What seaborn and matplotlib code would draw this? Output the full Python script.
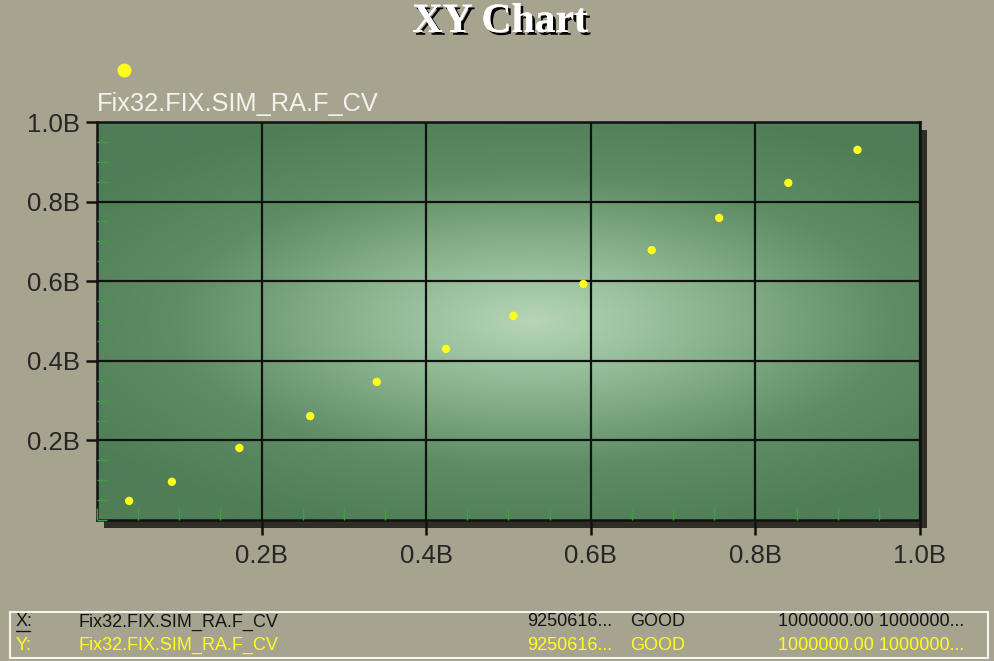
import numpy as np
import pandas as pd
import seaborn as sns
import matplotlib
matplotlib.use("Agg")
import matplotlib.pyplot as plt
from matplotlib.patches import Rectangle
from matplotlib.lines import Line2D
from matplotlib.ticker import FuncFormatter, MultipleLocator
from matplotlib.colors import LinearSegmentedColormap
import matplotlib.patheffects as pe

# ---- data ----
x_values = [0.039e9, 0.091e9, 0.173e9, 0.259e9, 0.340e9, 0.424e9,
            0.506e9, 0.591e9, 0.674e9, 0.756e9, 0.840e9, 0.924e9]
y_values = [0.048e9, 0.096e9, 0.181e9, 0.261e9, 0.347e9, 0.430e9,
            0.513e9, 0.593e9, 0.678e9, 0.759e9, 0.847e9, 0.930e9]
series_name = "Fix32.FIX.SIM_RA.F_CV"
tick_values = [0.2e9, 0.4e9, 0.6e9, 0.8e9, 1.0e9]
title_text = "XY Chart"
table_rows = [
    ["X:", "Fix32.FIX.SIM_RA.F_CV", "9250616...", "GOOD", "1000000.00 1000000..."],
    ["Y:", "Fix32.FIX.SIM_RA.F_CV", "9250616...", "GOOD", "1000000.00 1000000..."],
]

df = pd.DataFrame({"x": x_values, "y": y_values})

sns.set_theme(style="white")
plt.rcParams["font.family"] = ["Liberation Sans", "DejaVu Sans"]

W, H = 995, 661
fig = plt.figure(figsize=(W / 100, H / 100), dpi=100)
fig.patch.set_facecolor("#a6a48f")

# plot area geometry (pixels)
L, R, T, B = 97, 920, 122, 520
ax = fig.add_axes([L / W, 1 - B / H, (R - L) / W, (B - T) / H])
ax.set_zorder(2)

# shadow behind plot area
fig.patches.append(Rectangle(((L + 7) / W, 1 - (B + 8) / H), (R - L) / W, (B - T) / H,
                             transform=fig.transFigure, facecolor="#2e2e26",
                             edgecolor="none", zorder=-1))

# green radial gradient background of plot area
gx, gy = np.meshgrid(np.linspace(0, 1, 400), np.linspace(0, 1, 300))
d = np.sqrt(((gx - 0.53) / 0.66) ** 2 + ((gy - 0.5) / 0.55) ** 2)
d = np.clip(d, 0, 1)
cmap = LinearSegmentedColormap.from_list("g", ["#b6d6b6", "#8ab48e", "#5e8c64", "#4f7d56"])
ax.imshow(d, cmap=cmap, extent=(0, 1, 0, 1), transform=ax.transAxes,
          aspect="auto", origin="lower", zorder=0, vmin=0, vmax=1)

sns.scatterplot(data=df, x="x", y="y", ax=ax, color="#ffff1a", s=36,
                edgecolor="none", zorder=5, legend=False)

ax.set_xlim(0, 1.0e9)
ax.set_ylim(0, 1.0e9)
ax.set_xticks(tick_values)
ax.set_yticks(tick_values)
fmt = FuncFormatter(lambda v, p: f"{v / 1e9:.1f}B")
ax.xaxis.set_major_formatter(fmt)
ax.yaxis.set_major_formatter(fmt)
ax.xaxis.set_minor_locator(MultipleLocator(0.05e9))
ax.yaxis.set_minor_locator(MultipleLocator(0.05e9))
ax.grid(True, which="major", color="#111111", linewidth=1.6, zorder=1)
ax.set_axisbelow(False)
ax.tick_params(axis="both", which="major", direction="out", width=1.8,
               color="#111111", labelsize=18.5, labelcolor="#262626",
               bottom=True, left=True)
ax.tick_params(axis="x", which="major", length=11, pad=6)
ax.tick_params(axis="y", which="major", length=8, pad=4)
ax.tick_params(axis="x", which="minor", direction="in", length=9, width=1,
               color="#3f9e3f", bottom=True)
ax.tick_params(axis="y", which="minor", direction="in", length=7, width=1,
               color="#3f9e3f", left=True)
ax.set_xlabel("")
ax.set_ylabel("")
for s in ax.spines.values():
    s.set_color("#111111")
    s.set_linewidth(1.8)

# title with shadow
fig.text(500 / W, 1 - 22 / H, title_text, ha="center", va="center",
         fontsize=30, fontweight="bold", color="white",
         family=["Liberation Serif", "DejaVu Serif"],
         path_effects=[pe.withSimplePatchShadow(offset=(2, -2), shadow_rgbFace="black", alpha=1.0),
                       pe.Normal()])

# legend marker and label
fig.add_artist(Line2D([124 / W], [1 - 70 / H], marker="o", markersize=10,
                      color="#ffff1a", markeredgecolor="none", linestyle="none",
                      transform=fig.transFigure))
fig.text(97 / W, 1 - 104 / H, series_name, ha="left", va="center",
         fontsize=18.3, color="#f2f2ee")

# bottom table
fig.patches.append(Rectangle((10 / W, 1 - 658 / H), 978 / W, 46 / H,
                             transform=fig.transFigure, facecolor="none",
                             edgecolor="#f4f4f0", linewidth=1.5))
col_x = [16, 78, 527, 630, 778]
row_y = [622, 645]
row_colors = ["#151515", "#ffff1a"]
for r, row in enumerate(table_rows):
    for c, txt in enumerate(row):
        fig.text(col_x[c] / W, 1 - row_y[r] / H, txt, ha="left", va="center",
                 fontsize=13, color=row_colors[r])
        if r == 0 and c == 0:
            fig.add_artist(Line2D([16 / W, 30 / W], [1 - 631 / H, 1 - 631 / H],
                                  color=row_colors[r], linewidth=1,
                                  transform=fig.transFigure))

fig.savefig("out.png", dpi=100, facecolor=fig.get_facecolor())
